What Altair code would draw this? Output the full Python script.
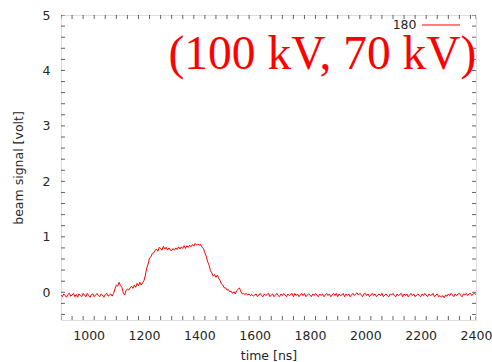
import altair as alt
import pandas as pd

# time samples every 5 ns from 900 to 2400
t0, dt = 900, 5
signal = [
    # 900-1085
    -0.05, -0.08, -0.03, -0.06, -0.09, -0.04, -0.02, -0.07, -0.05, -0.02,
    -0.08, -0.04, -0.09, -0.03, -0.06, -0.08, -0.02, -0.05, -0.08, -0.02,
    -0.06, -0.09, -0.04, -0.03, -0.08, -0.05, -0.02, -0.06, -0.08, -0.03,
    -0.05, -0.09, -0.04, -0.02, -0.07, -0.05, -0.03, -0.07,
    # 1090-1195
    -0.02, 0.06, 0.13, 0.11, 0.18, 0.12, 0.09, -0.01, -0.05, 0.03,
    0.06, 0.04, 0.08, 0.11, 0.07, 0.13, 0.09, 0.16, 0.12, 0.18, 0.13, 0.17,
    # 1200-1295
    0.21, 0.31, 0.44, 0.51, 0.62, 0.64, 0.70, 0.71, 0.75, 0.78,
    0.74, 0.81, 0.79, 0.76, 0.83, 0.78, 0.81, 0.76, 0.80, 0.76,
    # 1300-1395
    0.75, 0.79, 0.76, 0.80, 0.77, 0.82, 0.78, 0.82, 0.79, 0.84,
    0.79, 0.84, 0.81, 0.85, 0.82, 0.86, 0.83, 0.88, 0.85, 0.87,
    # 1400-1495
    0.85, 0.86, 0.81, 0.79, 0.71, 0.65, 0.55, 0.49, 0.39, 0.35,
    0.29, 0.32, 0.27, 0.31, 0.25, 0.21, 0.15, 0.13, 0.08, 0.08,
    # 1500-1595
    0.04, 0.05, 0.01, 0.02, -0.02, 0.01, -0.03, 0.03, 0.05, 0.08,
    0.01, -0.03, -0.02, -0.04, -0.02, -0.05, -0.03, -0.06, -0.04, -0.07,
    # 1600-1695
    -0.05, -0.03, -0.08, -0.05, -0.02, -0.06, -0.08, -0.03, -0.06, -0.04,
    -0.02, -0.08, -0.05, -0.03, -0.08, -0.05, -0.02, -0.06, -0.08, -0.03,
    # 1700-1795
    -0.06, -0.02, -0.05, -0.08, -0.03, -0.06, -0.04, -0.02, -0.08, -0.02,
    -0.06, -0.03, -0.08, -0.05, -0.02, -0.06, -0.02, -0.08, -0.05, -0.03,
    # 1800-1895
    -0.05, -0.08, -0.03, -0.06, -0.02, -0.05, -0.08, -0.03, -0.06, -0.03,
    -0.08, -0.05, -0.02, -0.06, -0.03, -0.08, -0.05, -0.02, -0.06, -0.02,
    # 1900-1995
    -0.08, -0.03, -0.06, -0.05, -0.02, -0.08, -0.03, -0.06, -0.03, -0.08,
    -0.05, -0.02, -0.06, -0.03, -0.01, -0.05, -0.02, -0.04, -0.08, -0.03,
    # 2000-2095
    -0.02, -0.06, -0.03, -0.08, -0.05, -0.02, -0.06, -0.03, -0.08, -0.05,
    -0.03, -0.06, -0.02, -0.08, -0.05, -0.03, -0.06, -0.08, -0.03, -0.05,
    # 2100-2195
    -0.02, -0.06, -0.08, -0.03, -0.06, -0.04, -0.02, -0.08, -0.03, -0.06,
    -0.03, -0.08, -0.05, -0.02, -0.06, -0.03, -0.08, -0.05, -0.03, -0.06,
    # 2200-2295
    -0.08, -0.03, -0.06, -0.02, -0.05, -0.08, -0.03, -0.06, -0.05, -0.02,
    -0.08, -0.05, -0.03, -0.08, -0.06, -0.09, -0.06, -0.10, -0.05, -0.07,
    # 2300-2395
    -0.03, -0.06, -0.02, -0.05, -0.08, -0.03, -0.06, -0.03, -0.02, -0.06,
    -0.08, -0.03, -0.05, -0.02, -0.06, -0.03, -0.02, -0.06, -0.03, -0.02,
    # 2400
    -0.04,
]
times = [t0 + dt * i for i in range(len(signal))]

x_labels = [1000, 1200, 1400, 1600, 1800, 2000, 2200, 2400]
y_labels = [0, 1, 2, 3, 4, 5]
x_minor = [900 + 40 * i for i in range(38)] + [2400]
y_minor = [round(-0.4 + 0.2 * i, 1) for i in range(28)]

legend_label = "180"
annotation = "(100 kV, 70 kV)"

X_DOM = [900, 2400]
Y_DOM = [-0.5, 5]
FONT = "DejaVu Sans"
TXT = "#262626"

df = pd.DataFrame({"t": times, "v": signal})
xs = alt.Scale(domain=X_DOM, nice=False, zero=False)
ys = alt.Scale(domain=Y_DOM, nice=False, zero=False)

line = alt.Chart(df).mark_line(color="#ff0000", strokeWidth=1, clip=True).encode(
    x=alt.X("t:Q", scale=xs, title="time [ns]",
            axis=alt.Axis(values=x_labels, format="d", domain=False, ticks=False,
                          grid=False, labelFont=FONT, labelFontSize=12.5,
                          labelColor=TXT, labelPadding=9, titleFont=FONT,
                          titleFontSize=12.5, titleFontWeight="normal",
                          titleColor=TXT, titlePadding=8, labelFlush=False)),
    y=alt.Y("v:Q", scale=ys, title="beam signal [volt]",
            axis=alt.Axis(values=y_labels, format="d", domain=False, ticks=False,
                          grid=False, labelFont=FONT, labelFontSize=12.5,
                          labelColor=TXT, labelPadding=11, titleFont=FONT,
                          titleFontSize=12.5, titleFontWeight="normal",
                          titleColor=TXT, titlePadding=17)),
)

xt = pd.DataFrame({"t": x_minor})
yt = pd.DataFrame({"v": y_minor})
tick_style = dict(color="#222222", thickness=1, size=8, clip=True)

xticks_bottom = alt.Chart(xt).mark_tick(orient="vertical", **tick_style).encode(
    x=alt.X("t:Q", scale=xs), y=alt.datum(Y_DOM[0], scale=ys))
xticks_top = alt.Chart(xt).mark_tick(orient="vertical", **tick_style).encode(
    x=alt.X("t:Q", scale=xs), y=alt.datum(Y_DOM[1], scale=ys))
yticks_left = alt.Chart(yt).mark_tick(orient="horizontal", **tick_style).encode(
    y=alt.Y("v:Q", scale=ys), x=alt.datum(X_DOM[0], scale=xs))
yticks_right = alt.Chart(yt).mark_tick(orient="horizontal", **tick_style).encode(
    y=alt.Y("v:Q", scale=ys), x=alt.datum(X_DOM[1], scale=xs))

leg_df = pd.DataFrame({"label": [legend_label], "tx": [2185], "x1": [2205], "x2": [2342], "y": [4.82]})
leg_text = alt.Chart(leg_df).mark_text(align="right", baseline="middle", font=FONT,
                                       fontSize=12.5, color=TXT).encode(
    x=alt.X("tx:Q", scale=xs), y=alt.Y("y:Q", scale=ys), text="label:N")
leg_line = alt.Chart(leg_df).mark_rule(color="#ff0000", strokeWidth=1).encode(
    x=alt.X("x1:Q", scale=xs), x2="x2:Q", y=alt.Y("y:Q", scale=ys))

ann_df = pd.DataFrame({"label": [annotation], "x": [1845], "y": [4.02]})
ann = alt.Chart(ann_df).mark_text(align="center", baseline="alphabetic",
                                  font="Liberation Serif", fontSize=47.5,
                                  color="#ff0000").encode(
    x=alt.X("x:Q", scale=xs), y=alt.Y("y:Q", scale=ys), text="label:N")

chart = alt.layer(line, xticks_bottom, xticks_top, yticks_left, yticks_right,
                  leg_text, leg_line, ann).properties(
    width=415, height=305,
    autosize=alt.AutoSizeParams(type="none"),
    padding={"left": 61, "top": 15, "right": 16, "bottom": 42},
).configure_view(stroke="#222222", strokeWidth=1).configure(background="white")

chart.save("out.html", embed_options={"renderer": "svg", "actions": False})
